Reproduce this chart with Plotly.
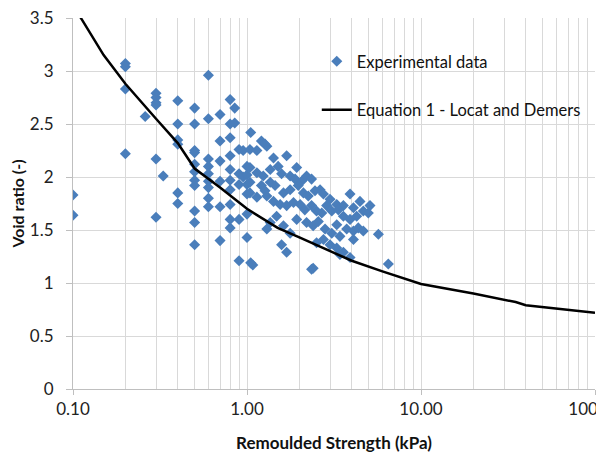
import plotly.graph_objects as go

# Experimental data: remoulded strength (kPa) and void ratio (-)
strength = [
    0.1, 0.1,
    0.2, 0.2, 0.2, 0.2,
    0.26,
    0.3, 0.3, 0.3, 0.3, 0.3, 0.3,
    0.33,
    0.4, 0.4, 0.4, 0.4, 0.4, 0.4,
    0.5, 0.5, 0.5, 0.5, 0.5, 0.5, 0.5, 0.5, 0.5, 0.5, 0.5,
    0.6, 0.6, 0.6, 0.6, 0.6, 0.6, 0.6, 0.6, 0.6,
    0.7, 0.7, 0.7, 0.7, 0.7, 0.7,
    0.8, 0.8, 0.8, 0.8, 0.8, 0.8, 0.8, 0.8, 0.8, 0.8,
    0.85, 0.85,
    0.9, 0.9, 0.9, 0.9, 0.9,
    0.95, 0.95,
    1.0, 1.0, 1.0, 1.0, 1.0, 1.0,
    1.04, 1.14, 1.21, 1.30, 1.42, 1.69, 1.93, 1.05, 1.27,
    1.04, 1.14, 1.24, 1.36, 1.51, 1.58, 1.77, 1.89, 2.06, 2.20, 2.35, 2.63,
    1.04, 1.21, 1.27, 1.36, 1.45, 1.62, 1.77, 1.97, 2.11, 2.25, 2.46, 2.75, 3.00, 3.28, 3.58, 3.91, 4.46, 5.09, 4.09,
    1.04, 1.14, 1.30, 1.42, 1.55, 1.69, 1.85, 2.02, 2.15, 2.35, 2.51, 2.69, 2.87, 3.07, 3.35, 3.58, 3.91, 4.27, 4.66, 4.98,
    1.30, 1.36, 1.48, 1.62, 1.77, 1.93, 2.20, 2.40, 2.57, 2.81, 3.07, 3.28, 3.42, 3.74, 4.09, 4.36, 4.66,
    1.58, 1.69, 2.51, 2.75, 3.00, 3.28, 3.58, 3.91, 3.42, 4.09,
    5.69, 6.49, 2.40, 2.35, 1.05, 1.08,
]
void_ratio = [
    1.83, 1.64,
    3.07, 3.04, 2.83, 2.22,
    2.57,
    2.79, 2.75, 2.70, 2.68, 2.17, 1.62,
    2.01,
    2.72, 2.50, 2.35, 2.31, 1.85, 1.75,
    2.65, 2.50, 2.25, 2.23, 2.12, 2.05, 1.97, 1.92, 1.68, 1.57, 1.36,
    2.96, 2.55, 2.17, 2.10, 2.03, 1.96, 1.90, 1.80, 1.72,
    2.59, 2.34, 2.15, 1.96, 1.72, 1.40,
    2.73, 2.50, 2.37, 2.20, 2.07, 1.97, 1.88, 1.74, 1.60, 1.52,
    2.65, 2.51,
    2.26, 2.03, 1.93, 1.60, 1.21,
    2.25, 2.00,
    2.10, 2.02, 1.93, 1.84, 1.65, 1.43,
    2.26, 2.25, 2.34, 2.29, 2.18, 2.20, 2.09, 2.42, 2.31,
    2.09, 2.04, 2.01, 2.07, 2.10, 2.03, 2.01, 1.98, 1.96, 2.01, 1.98, 1.88,
    1.95, 1.92, 1.87, 1.95, 1.92, 1.85, 1.88, 1.92, 1.85, 1.82, 1.87, 1.84, 1.79, 1.74, 1.73, 1.84, 1.77, 1.73, 1.71,
    1.85, 1.81, 1.82, 1.77, 1.74, 1.73, 1.76, 1.74, 1.69, 1.73, 1.68, 1.66, 1.73, 1.68, 1.69, 1.63, 1.60, 1.63, 1.68, 1.66,
    1.51, 1.57, 1.63, 1.54, 1.47, 1.60, 1.57, 1.54, 1.58, 1.51, 1.47, 1.55, 1.44, 1.51, 1.49, 1.52, 1.49,
    1.36, 1.29, 1.38, 1.41, 1.36, 1.33, 1.29, 1.24, 1.27, 1.41,
    1.46, 1.18, 1.14, 1.13, 1.19, 1.17,
]

# Equation 1 - Locat and Demers
eq_strength = [0.105, 0.113, 0.15, 0.2, 0.3, 0.4, 0.5, 0.7, 1.0, 1.5, 2.0, 3.0, 4.0, 6.0, 10.0, 20.0, 35.0, 40.0, 60.0, 100.0]
eq_void = [3.56, 3.48, 3.15, 2.88, 2.55, 2.32, 2.08, 1.90, 1.70, 1.52, 1.43, 1.30, 1.21, 1.11, 0.99, 0.90, 0.82, 0.79, 0.76, 0.72]

x_tickvals = [0.1, 1, 10, 100]
x_ticktext = ["0.10", "1.00", "10.00", "100.00"]
y_tickvals = [0, 0.5, 1, 1.5, 2, 2.5, 3, 3.5]
y_ticktext = ["0", "0.5", "1", "1.5", "2", "2.5", "3", "3.5"]

font_family = "Lato, 'Open Sans', sans-serif"
grid_col = "#D9D9D9"

fig = go.Figure()
fig.add_trace(go.Scatter(
    x=strength, y=void_ratio, mode="markers", name="Experimental data",
    legendgroup="a",
    marker=dict(symbol="diamond", size=8.5, color="#4A7EBB", line=dict(width=0)),
))
fig.add_trace(go.Scatter(
    x=eq_strength, y=eq_void, mode="lines", name="Equation 1 - Locat and Demers",
    legendgroup="b",
    line=dict(color="black", width=2.5),
))

fig.add_shape(type="rect", xref="paper", yref="paper",
              x0=0.487, x1=0.97, y0=0.712, y1=0.987,
              fillcolor="white", line=dict(width=0), layer="between")

fig.update_layout(
    template="none",
    width=596, height=446,
    margin=dict(l=65, r=9, t=10, b=65),
    paper_bgcolor="white", plot_bgcolor="white",
    font=dict(family=font_family, size=17, color="#222222"),
    showlegend=True,
    legend=dict(x=0.467, y=0.93, xanchor="left", yanchor="top",
                bgcolor="rgba(0,0,0,0)", borderwidth=0,
                font=dict(size=16.5, color="#111111"),
                tracegroupgap=24, traceorder="grouped",
                itemwidth=30),
    xaxis=dict(
        type="log", range=[-1, 2], automargin=False,
        tickvals=x_tickvals, ticktext=x_ticktext,
        ticklabeloverflow="allow",
        showgrid=True, gridcolor=grid_col, gridwidth=1,
        minor=dict(showgrid=True, gridcolor=grid_col, gridwidth=1,
                   tickvals=[v * d for d in (0.1, 1, 10) for v in range(2, 10)]),
        showline=True, linecolor="#BFBFBF", linewidth=1,
        ticks="outside", ticklen=5, tickcolor="#BFBFBF",
        zeroline=False,
        title=dict(text="<b>Remoulded Strength (kPa)</b>", font=dict(size=17, color="#111111"), standoff=18),
    ),
    yaxis=dict(
        range=[0, 3.5], automargin=False,
        tickvals=y_tickvals, ticktext=y_ticktext,
        ticklabeloverflow="allow",
        showgrid=True, gridcolor=grid_col, gridwidth=1,
        showline=True, linecolor="#BFBFBF", linewidth=1,
        ticks="outside", ticklen=6, tickcolor="#BFBFBF",
        ticklabelstandoff=9,
        zeroline=False,
        title=dict(text="<b>Void ratio (-)</b>", font=dict(size=16, color="#111111"), standoff=4),
    ),
)

fig.write_html("out.html")
